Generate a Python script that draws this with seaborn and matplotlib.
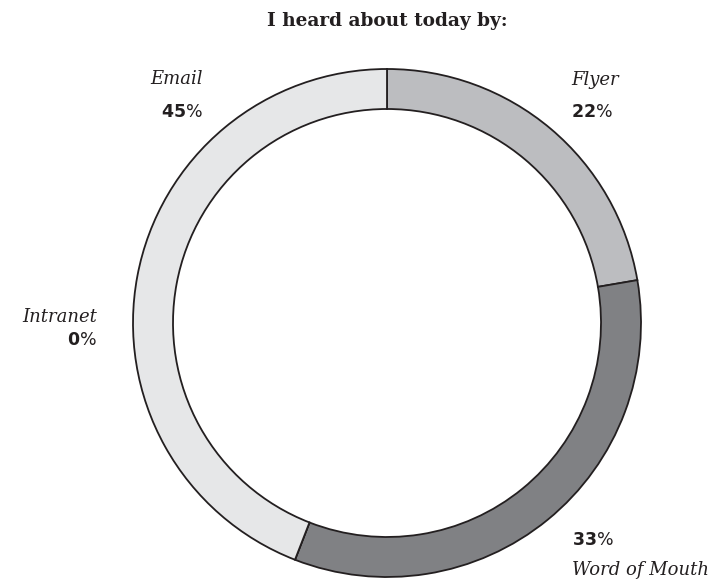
"""Donut chart: how people heard about today."""

import matplotlib
matplotlib.use("Agg")
import matplotlib.pyplot as plt
import seaborn as sns

categories = ["Flyer", "Word of Mouth", "Intranet", "Email"]
# wedge sizes as read from the ring, and the rounded labels printed next to it
shares = [22.3, 33.6, 0, 44.1]
share_labels = ["22", "33", "0", "45"]
colors = ["#bcbdc0", "#808184", "#ffffff", "#e6e7e8"]
title = "I heard about today by:"

# label anchors in pixel space (x, y from top): name, percent, alignment
label_pos = {
    "Flyer": ((571, 80), (571, 112), "left"),
    "Word of Mouth": ((572, 570), (572, 540), "left"),
    "Intranet": ((97, 317), (97, 340), "right"),
    "Email": ((203, 79), (203, 112), "right"),
}

sns.set_theme(style="white")
plt.rcParams["font.family"] = ["DejaVu Serif"]
plt.rcParams["mathtext.fontset"] = "custom"
plt.rcParams["mathtext.bf"] = "DejaVu Sans:bold"

W, H = 714, 586
ink = "#231f20"
fig = plt.figure(figsize=(W / 100, H / 100), dpi=100)
ax = fig.add_axes([0, 0, 1, 1])

cx, cy, r = 387, H - 323, 254
ax.pie(
    shares,
    colors=colors,
    startangle=90,
    counterclock=False,
    center=(cx, cy),
    radius=r,
    wedgeprops=dict(width=40, edgecolor=ink, linewidth=1.3),
)
ax.set_xlim(0, W)
ax.set_ylim(0, H)
ax.set_aspect("equal")
ax.axis("off")

ax.text(W / 2 + 30, H - 21, title, ha="center", va="center",
        fontsize=13.3, fontweight="bold", color=ink)

for name, lab in zip(categories, share_labels):
    (nx, ny), (px, py), ha = label_pos[name]
    ax.text(nx, H - ny, name, ha=ha, va="center", fontsize=13,
            style="italic", color=ink)
    ax.text(px, H - py, r"$\mathbf{" + lab + "}$%", ha=ha, va="center",
            fontsize=12.5, family="DejaVu Sans", color=ink)

fig.savefig("out.png", dpi=100)
